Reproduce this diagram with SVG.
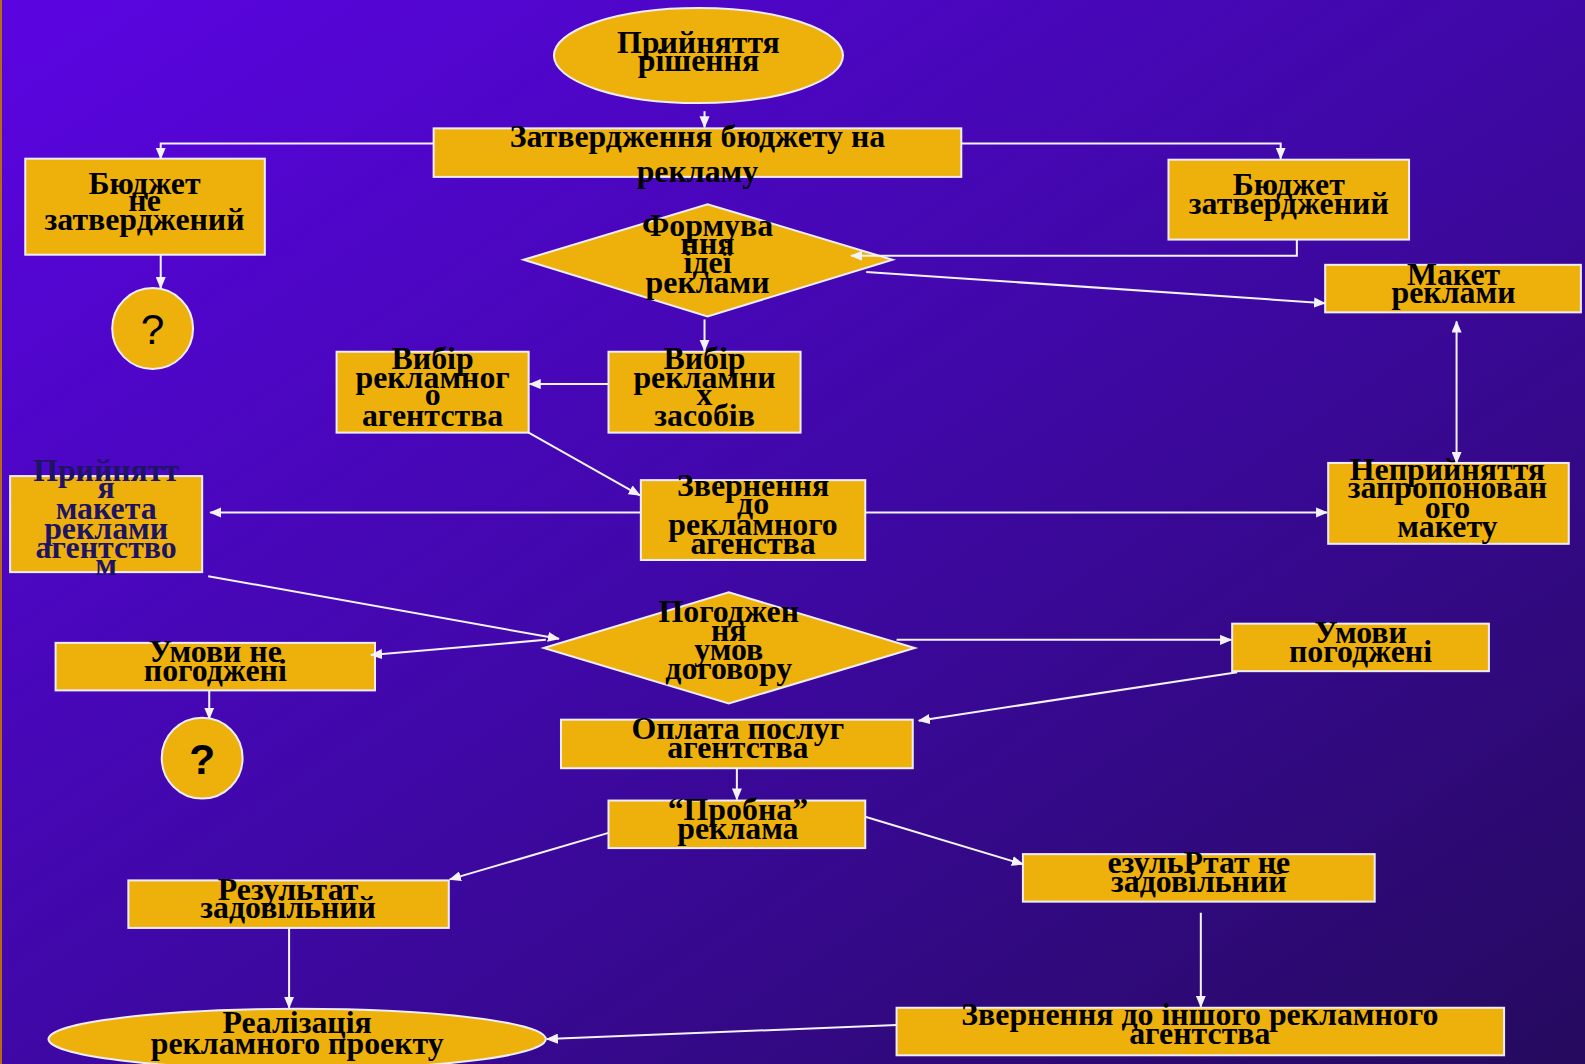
<svg xmlns="http://www.w3.org/2000/svg" width="1585" height="1064" viewBox="0 0 1585 1064">
<defs>
<linearGradient id="bg" x1="0" y1="0" x2="1" y2="1">
<stop offset="0" stop-color="#5b04e2"/>
<stop offset="0.5" stop-color="#3f08a6"/>
<stop offset="1" stop-color="#250a5e"/>
</linearGradient>
<marker id="ah" viewBox="0 0 12 10" refX="11" refY="5" markerWidth="12" markerHeight="10" markerUnits="userSpaceOnUse" orient="auto-start-reverse">
<path d="M0,0 L12,5 L0,10 Z" fill="#f2f2f8"/>
</marker>
<style>
.n{fill:#eeb10b;stroke:#ececf4;stroke-width:2}
.t{font-family:"Liberation Serif","Times New Roman",serif;font-weight:bold;font-size:31.5px;fill:#000;text-anchor:middle}
.d{fill:#1e1464}
.q{font-family:"Liberation Sans",Arial,sans-serif;font-size:42px;fill:#000;text-anchor:middle}
.c{stroke:#f2f2f8;stroke-width:2;fill:none}
.c path{marker-end:url(#ah)}
</style>
</defs>
<rect x="0" y="0" width="1585" height="1064" fill="url(#bg)"/>
<rect x="0" y="0" width="2" height="1064" fill="#b86a10"/>
<g transform="scale(1.0108)">

<g id="n1"><ellipse class="n" cx="691" cy="55" rx="143" ry="47"/>
<text class="t" x="691" y="52">Прийняття</text><text class="t" x="691" y="70">рішення</text></g>

<g id="n2"><rect class="n" x="429" y="127" width="522" height="48"/>
<text class="t" x="690" y="145">Затвердження бюджету на</text><text class="t" x="690" y="180">рекламу</text></g>

<g id="n3"><rect class="n" x="25" y="157" width="237" height="95"/>
<text class="t" x="143" y="192">Бюджет</text><text class="t" x="143" y="209">не</text><text class="t" x="143" y="228">затверджений</text></g>

<g id="n4"><circle class="n" cx="151" cy="325" r="40"/>
<text class="q" x="151" y="340">?</text></g>

<g id="n5"><rect class="n" x="1156" y="158" width="238" height="79"/>
<text class="t" x="1275" y="193">Бюджет</text><text class="t" x="1275" y="212">затверджений</text></g>

<g id="n6"><polygon class="n" points="518,257 700,202 883,257 700,313"/>
<text class="t" x="700" y="233">Формува</text><text class="t" x="700" y="251">ння</text><text class="t" x="700" y="270">ідеї</text><text class="t" x="700" y="290">реклами</text></g>

<g id="n7"><rect class="n" x="1311" y="262" width="253" height="47"/>
<text class="t" x="1438" y="282">Макет</text><text class="t" x="1438" y="300">реклами</text></g>

<g id="n8"><rect class="n" x="602" y="348" width="190" height="80"/>
<text class="t" x="697" y="365">Вибір</text><text class="t" x="697" y="384">рекламни</text><text class="t" x="697" y="401">х</text><text class="t" x="697" y="421">засобів</text></g>

<g id="n9"><rect class="n" x="333" y="348" width="190" height="80"/>
<text class="t" x="428" y="365">Вибір</text><text class="t" x="428" y="384">рекламног</text><text class="t" x="428" y="401">о</text><text class="t" x="428" y="421">агентства</text></g>

<g id="n10"><rect class="n" x="634" y="475" width="222" height="79"/>
<text class="t" x="745" y="491">Звернення</text><text class="t" x="745" y="509">до</text><text class="t" x="745" y="529">рекламного</text><text class="t" x="745" y="548">агенства</text></g>

<g id="n11"><rect class="n" x="10" y="471" width="190" height="95"/>
<text class="t d" x="105" y="476">Прийнятт</text><text class="t d" x="105" y="493">я</text><text class="t d" x="105" y="513">макета</text><text class="t d" x="105" y="533">реклами</text><text class="t d" x="105" y="552">агентство</text><text class="t d" x="105" y="569">м</text></g>

<g id="n12"><rect class="n" x="1314" y="458" width="238" height="80"/>
<text class="t" x="1432" y="475">Неприйняття</text><text class="t" x="1432" y="493">запропонован</text><text class="t" x="1432" y="512">ого</text><text class="t" x="1432" y="531">макету</text></g>

<g id="n13"><polygon class="n" points="538,641 721,586 905,641 721,696"/>
<text class="t" x="721" y="615">Погоджен</text><text class="t" x="721" y="634">ня</text><text class="t" x="721" y="653">умов</text><text class="t" x="721" y="672">договору</text></g>

<g id="n14"><rect class="n" x="55" y="636" width="316" height="47"/>
<text class="t" x="213" y="655">Умови не</text><text class="t" x="213" y="674">погоджені</text></g>

<g id="n15"><circle class="n" cx="200" cy="750" r="40"/>
<text class="q" x="200" y="766" font-weight="bold">?</text></g>

<g id="n16"><rect class="n" x="1219" y="617" width="254" height="47"/>
<text class="t" x="1346" y="636">Умови</text><text class="t" x="1346" y="655">погоджені</text></g>

<g id="n17"><rect class="n" x="555" y="712" width="348" height="48"/>
<text class="t" x="730" y="731">Оплата послуг</text><text class="t" x="730" y="750">агентства</text></g>

<g id="n18"><rect class="n" x="602" y="792" width="254" height="47"/>
<text class="t" x="730" y="811">“Пробна”</text><text class="t" x="730" y="830">реклама</text></g>

<g id="n19"><rect class="n" x="127" y="871" width="317" height="47"/>
<text class="t" x="285" y="890">Результат</text><text class="t" x="285" y="908">задовільний</text></g>

<g id="n20"><rect class="n" x="1012" y="845" width="348" height="47"/>
<text class="t" x="1186" y="864">езульРтат не</text><text class="t" x="1186" y="882">задовільний</text></g>

<g id="n21"><ellipse class="n" cx="294" cy="1028" rx="246" ry="30"/>
<text class="t" x="294" y="1022">Реалізація</text><text class="t" x="294" y="1043">рекламного проекту</text></g>

<g id="n22"><rect class="n" x="887" y="997" width="601" height="47"/>
<text class="t" x="1187" y="1014">Звернення до іншого рекламного</text><text class="t" x="1187" y="1033">агентства</text></g>

<g id="connectors" class="c">
<path d="M697,110 L697,126"/>
<path d="M429,142 L159,142 L159,157"/>
<path d="M951,142 L1267,142 L1267,157"/>
<path d="M159,252 L159,285"/>
<path d="M1283,237 L1283,253 L842,253"/>
<path d="M857,269 L1311,300"/>
<path d="M1441,458 L1441,318" style="marker-start:url(#ah)"/>
<path d="M697,316 L697,347"/>
<path d="M602,380 L524,380"/>
<path d="M523,428 L633,490"/>
<path d="M634,507 L208,507"/>
<path d="M856,507 L1313,507"/>
<path d="M206,570 L553,632"/>
<path d="M540,633 L367,648"/>
<path d="M207,683 L207,711"/>
<path d="M887,633 L1218,633"/>
<path d="M1224,665 L909,713"/>
<path d="M729,760 L729,791"/>
<path d="M602,824 L445,870"/>
<path d="M856,808 L1012,855"/>
<path d="M286,918 L286,997"/>
<path d="M1188,903 L1188,996"/>
<path d="M887,1014 L541,1028"/>
</g>
</g>
</svg>
